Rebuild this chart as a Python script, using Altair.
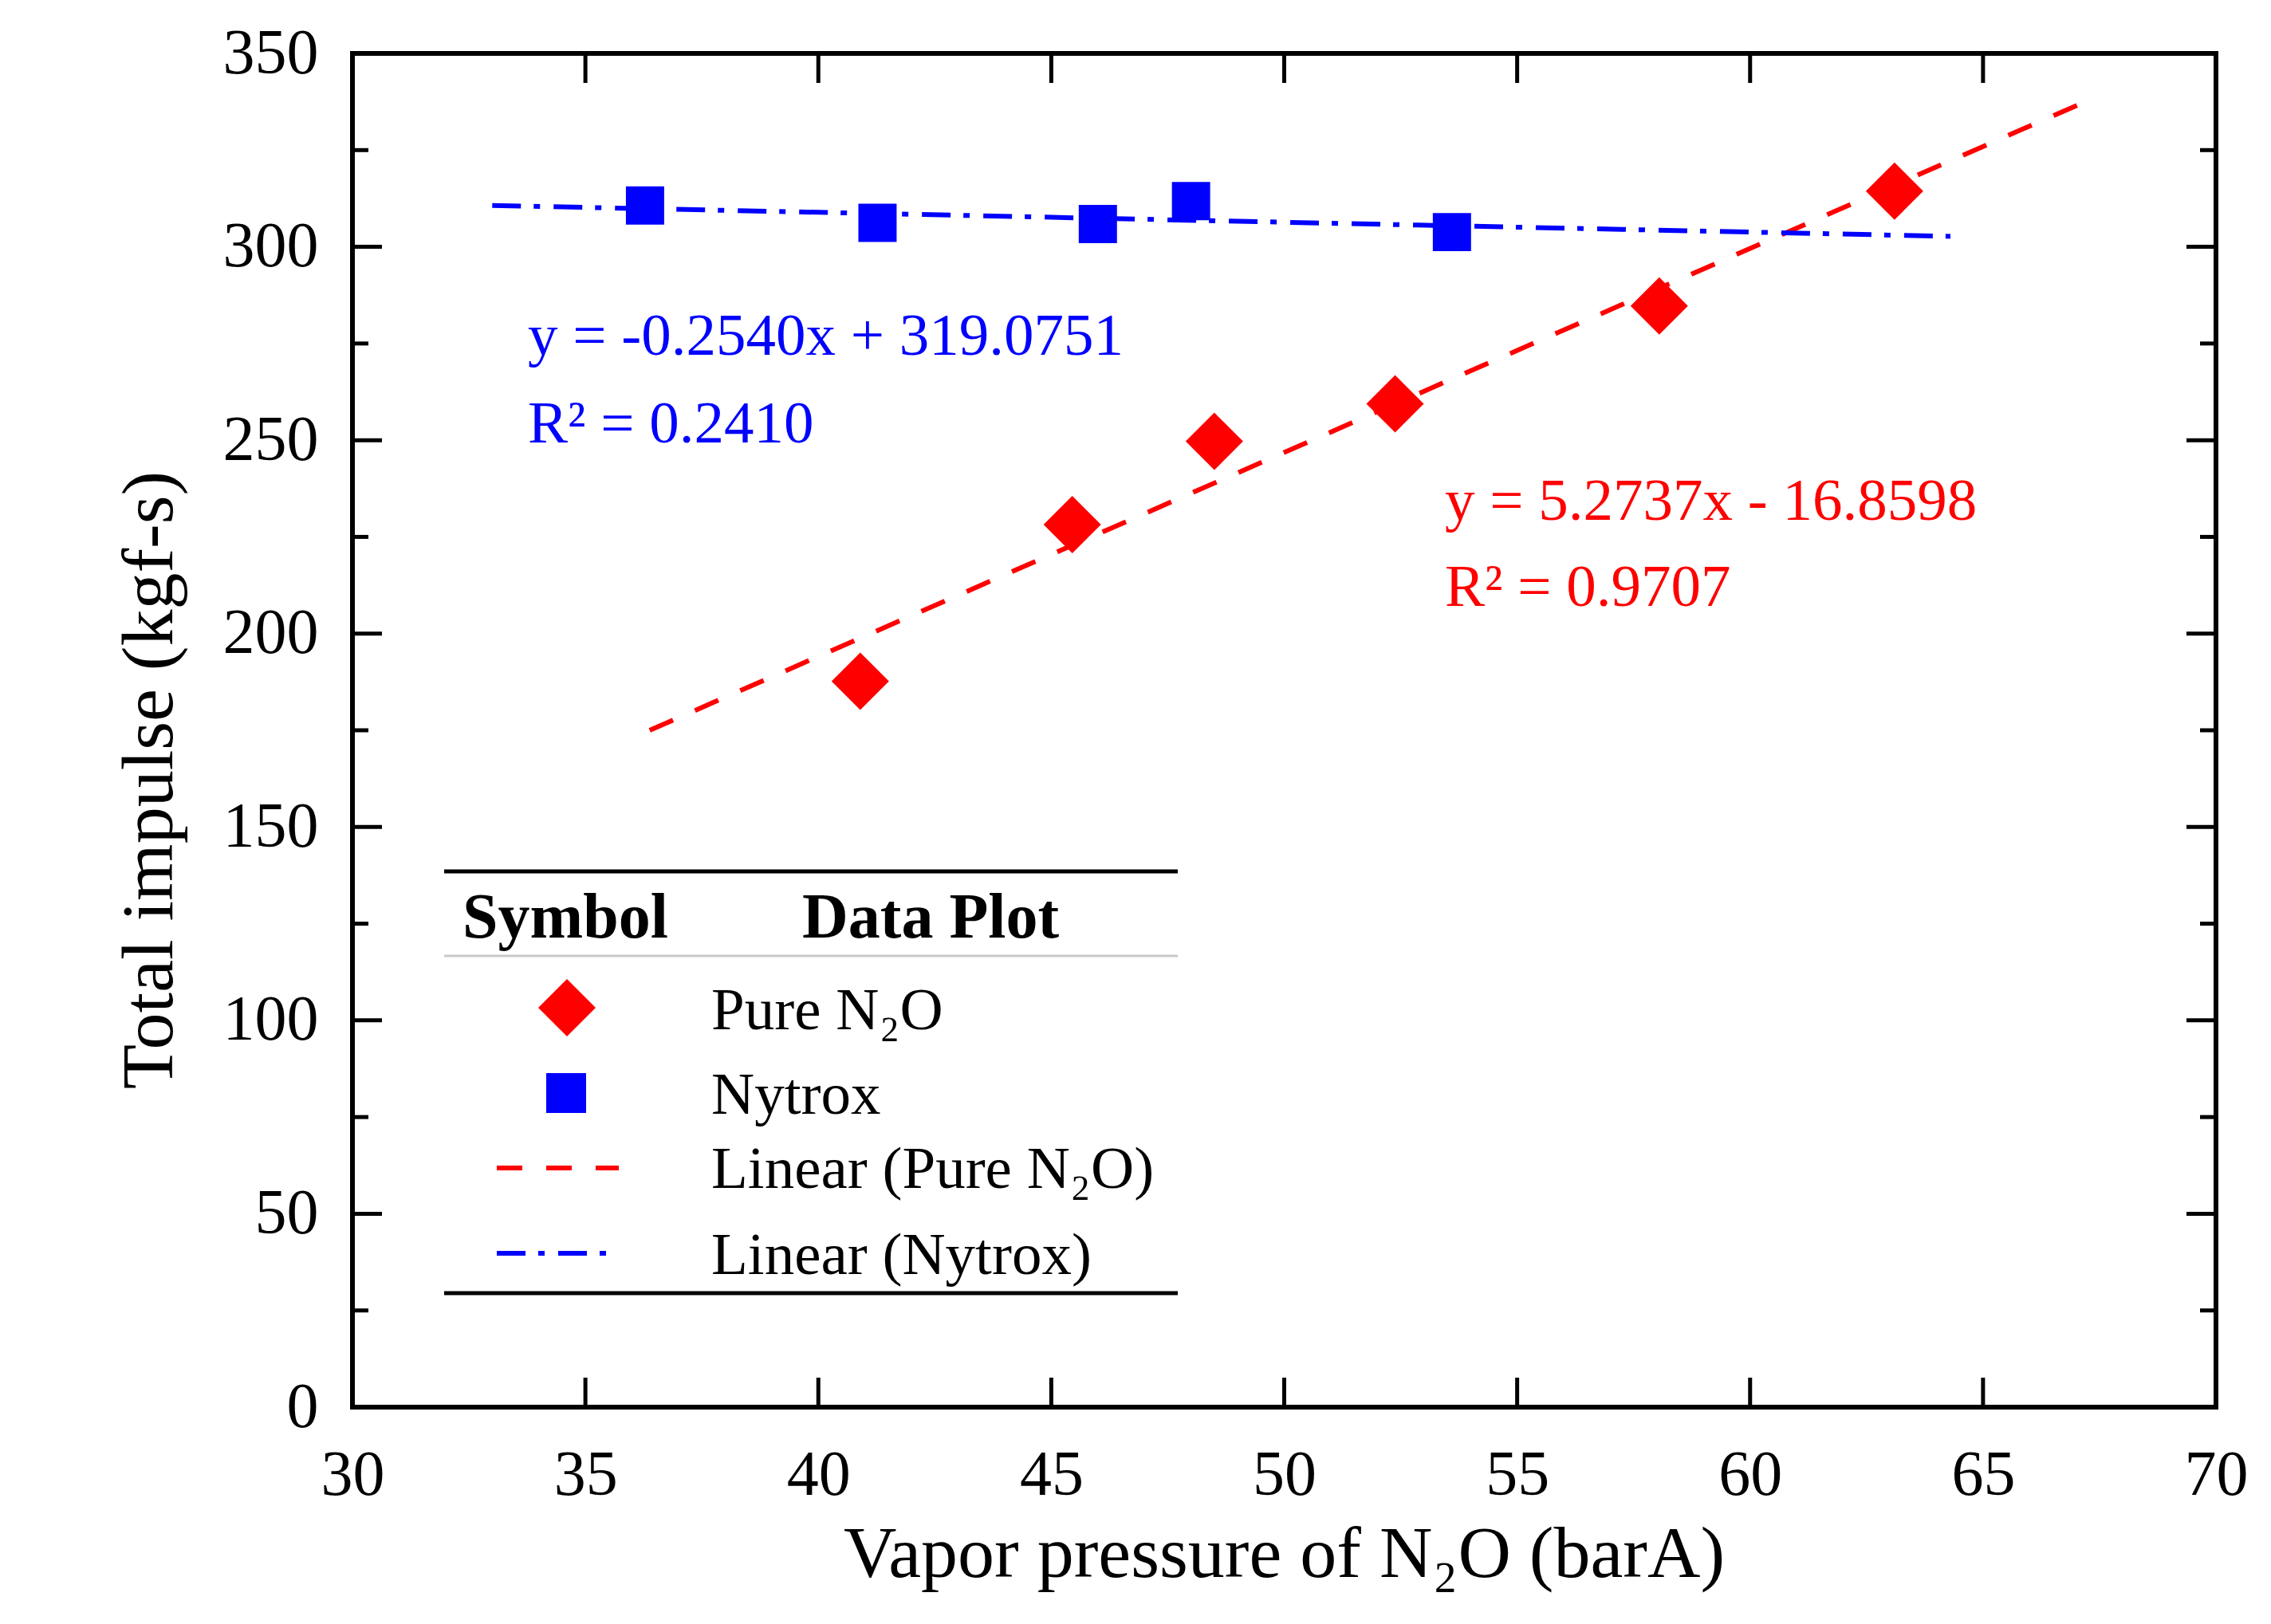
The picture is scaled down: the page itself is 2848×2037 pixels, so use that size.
import altair as alt
import pandas as pd

# ---- data ----
pure_x = [40.9, 45.45, 48.5, 52.38, 58.05, 63.1]
pure_y = [187.7, 228.2, 249.7, 259.4, 284.7, 314.4]
nytrox_x = [36.28, 41.27, 46.0, 48.0, 53.6]
nytrox_y = [310.7, 306.2, 305.9, 311.8, 303.8]
pure_fit_x = [36.38, 67.42]
pure_fit_y = [175.0, 338.7]
nytrox_fit_x = [33.0, 64.3]
nytrox_fit_y = [310.7, 302.7]

x_ticks = [30, 35, 40, 45, 50, 55, 60, 65, 70]
x_inner_ticks = [35, 40, 45, 50, 55, 60, 65]
y_ticks = [0, 50, 100, 150, 200, 250, 300, 350]
y_inner_ticks = [50, 100, 150, 200, 250, 300]
y_minor_ticks = [25, 75, 125, 175, 225, 275, 325]

blue_eq = ["y = -0.2540x + 319.0751", "R² = 0.2410"]
red_eq = ["y = 5.2737x - 16.8598", "R² = 0.9707"]
legend_header = ["Symbol", "Data Plot"]
legend_labels = ["Pure N₂O", "Nytrox", "Linear (Pure N₂O)", "Linear (Nytrox)"]

# ---- styles ----
W, H = 2337, 1698
FONT = "Liberation Serif"
RED = "#FF0000"
BLUE = "#0000FF"
RED_DASH = [32, 30]
BLUE_DASH = [36, 16, 8, 17]

xs = alt.Scale(domain=[30, 70], nice=False, zero=False)
ys = alt.Scale(domain=[0, 350], nice=False, zero=False)

x_axis = alt.Axis(
    values=x_ticks, ticks=False, domain=False, grid=False,
    labelFont=FONT, labelFontSize=80, labelColor="black", labelPadding=46,
    labelFlush=False, labelOverlap=False,
    title="Vapor pressure of N₂O (barA)", titleFont=FONT, titleFontSize=92,
    titleFontWeight="normal", titleColor="black",
    titleX=1168, titleY=212, titleAlign="center", titleBaseline="alphabetic",
)
y_axis = alt.Axis(
    values=y_ticks, ticks=False, domain=False, grid=False,
    labelFont=FONT, labelFontSize=80, labelColor="black", labelPadding=43,
    labelFlush=False, labelOverlap=False,
    title="Total impulse (kgf-s)", titleFont=FONT, titleFontSize=92,
    titleFontWeight="normal", titleColor="black", titleAngle=270,
    titleX=-227, titleY=911, titleAlign="center", titleBaseline="alphabetic",
)

X = alt.X("x:Q", scale=xs, axis=x_axis)
Y = alt.Y("y:Q", scale=ys, axis=y_axis)

pure_df = pd.DataFrame({"x": pure_x, "y": pure_y})
nyt_df = pd.DataFrame({"x": nytrox_x, "y": nytrox_y})
pure_fit_df = pd.DataFrame({"x": pure_fit_x, "y": pure_fit_y})
nyt_fit_df = pd.DataFrame({"x": nytrox_fit_x, "y": nytrox_fit_y})


def xticks_layer(vals, top):
    df = pd.DataFrame({"x": vals})
    yv, y2v = (0, 37) if top else (H, H - 37)
    return alt.Chart(df).mark_rule(color="black", strokeWidth=5).encode(
        x=X, y=alt.value(yv), y2=alt.value(y2v))


def yticks_layer(vals, right, length):
    df = pd.DataFrame({"y": vals})
    xv, x2v = (W - length, W) if right else (0, length)
    return alt.Chart(df).mark_rule(color="black", strokeWidth=5).encode(
        y=Y, x=alt.value(xv), x2=alt.value(x2v))


pure_pts = alt.Chart(pure_df).mark_point(
    shape="diamond", filled=True, size=5184, color=RED, opacity=1
).encode(x=X, y=Y)

pure_line = alt.Chart(pure_fit_df).mark_line(
    color=RED, strokeWidth=6, strokeDash=RED_DASH
).encode(x=X, y=Y)

nyt_line = alt.Chart(nyt_fit_df).mark_line(
    color=BLUE, strokeWidth=6, strokeDash=BLUE_DASH
).encode(x=X, y=Y)

nyt_pts = alt.Chart(nyt_df).mark_point(
    shape="square", filled=True, size=2300, color=BLUE, opacity=1
).encode(x=X, y=Y)

one = pd.DataFrame({"a": [0]})


def txt(s, x, y, color="black", size=75, weight="normal"):
    return alt.Chart(one).mark_text(
        text=s, font=FONT, fontSize=size, fontWeight=weight, color=color,
        align="left", baseline="alphabetic"
    ).encode(x=alt.value(x), y=alt.value(y))


def hrule(x1, x2, y, color, width, dash=None):
    kw = dict(color=color, strokeWidth=width)
    if dash:
        kw["strokeDash"] = dash
    return alt.Chart(one).mark_rule(**kw).encode(
        x=alt.value(x1), x2=alt.value(x2), y=alt.value(y))


layers = [
    pure_line, nyt_line, pure_pts, nyt_pts,
    xticks_layer(x_inner_ticks, False),
    xticks_layer(x_inner_ticks, True),
    yticks_layer(y_inner_ticks, False, 37),
    yticks_layer(y_inner_ticks, True, 37),
    yticks_layer(y_minor_ticks, False, 20),
    yticks_layer(y_minor_ticks, True, 20),
    # equations
    txt(blue_eq[0], 220, 378, BLUE),
    txt(blue_eq[1], 220, 488, BLUE),
    txt(red_eq[0], 1370, 585, RED),
    txt(red_eq[1], 1370, 693, RED),
    # legend table
    hrule(115, 1035, 1026, "black", 5),
    hrule(115, 1035, 1132, "#c8c8c8", 3),
    hrule(115, 1035, 1555, "black", 5),
    txt(legend_header[0], 138, 1109, size=80, weight="bold"),
    txt(legend_header[1], 564, 1109, size=80, weight="bold"),
    txt(legend_labels[0], 450, 1224),
    txt(legend_labels[1], 450, 1330),
    txt(legend_labels[2], 450, 1423),
    txt(legend_labels[3], 450, 1531),
    alt.Chart(one).mark_point(shape="diamond", filled=True, size=5184, color=RED, opacity=1)
    .encode(x=alt.value(269), y=alt.value(1197)),
    alt.Chart(one).mark_point(shape="square", filled=True, size=2500, color=BLUE, opacity=1)
    .encode(x=alt.value(268), y=alt.value(1304)),
    hrule(181, 334, 1398, RED, 6, RED_DASH),
    hrule(181, 319, 1505, BLUE, 6, BLUE_DASH),
]

chart = alt.layer(*layers).properties(
    width=W, height=H,
    autosize=alt.AutoSizeParams(type="none"),
    padding={"left": 434, "top": 59, "right": 40, "bottom": 250},
    background="white",
).configure_view(stroke="black", strokeWidth=6)

chart.save("out.html", embed_options={"renderer": "svg", "actions": False})
